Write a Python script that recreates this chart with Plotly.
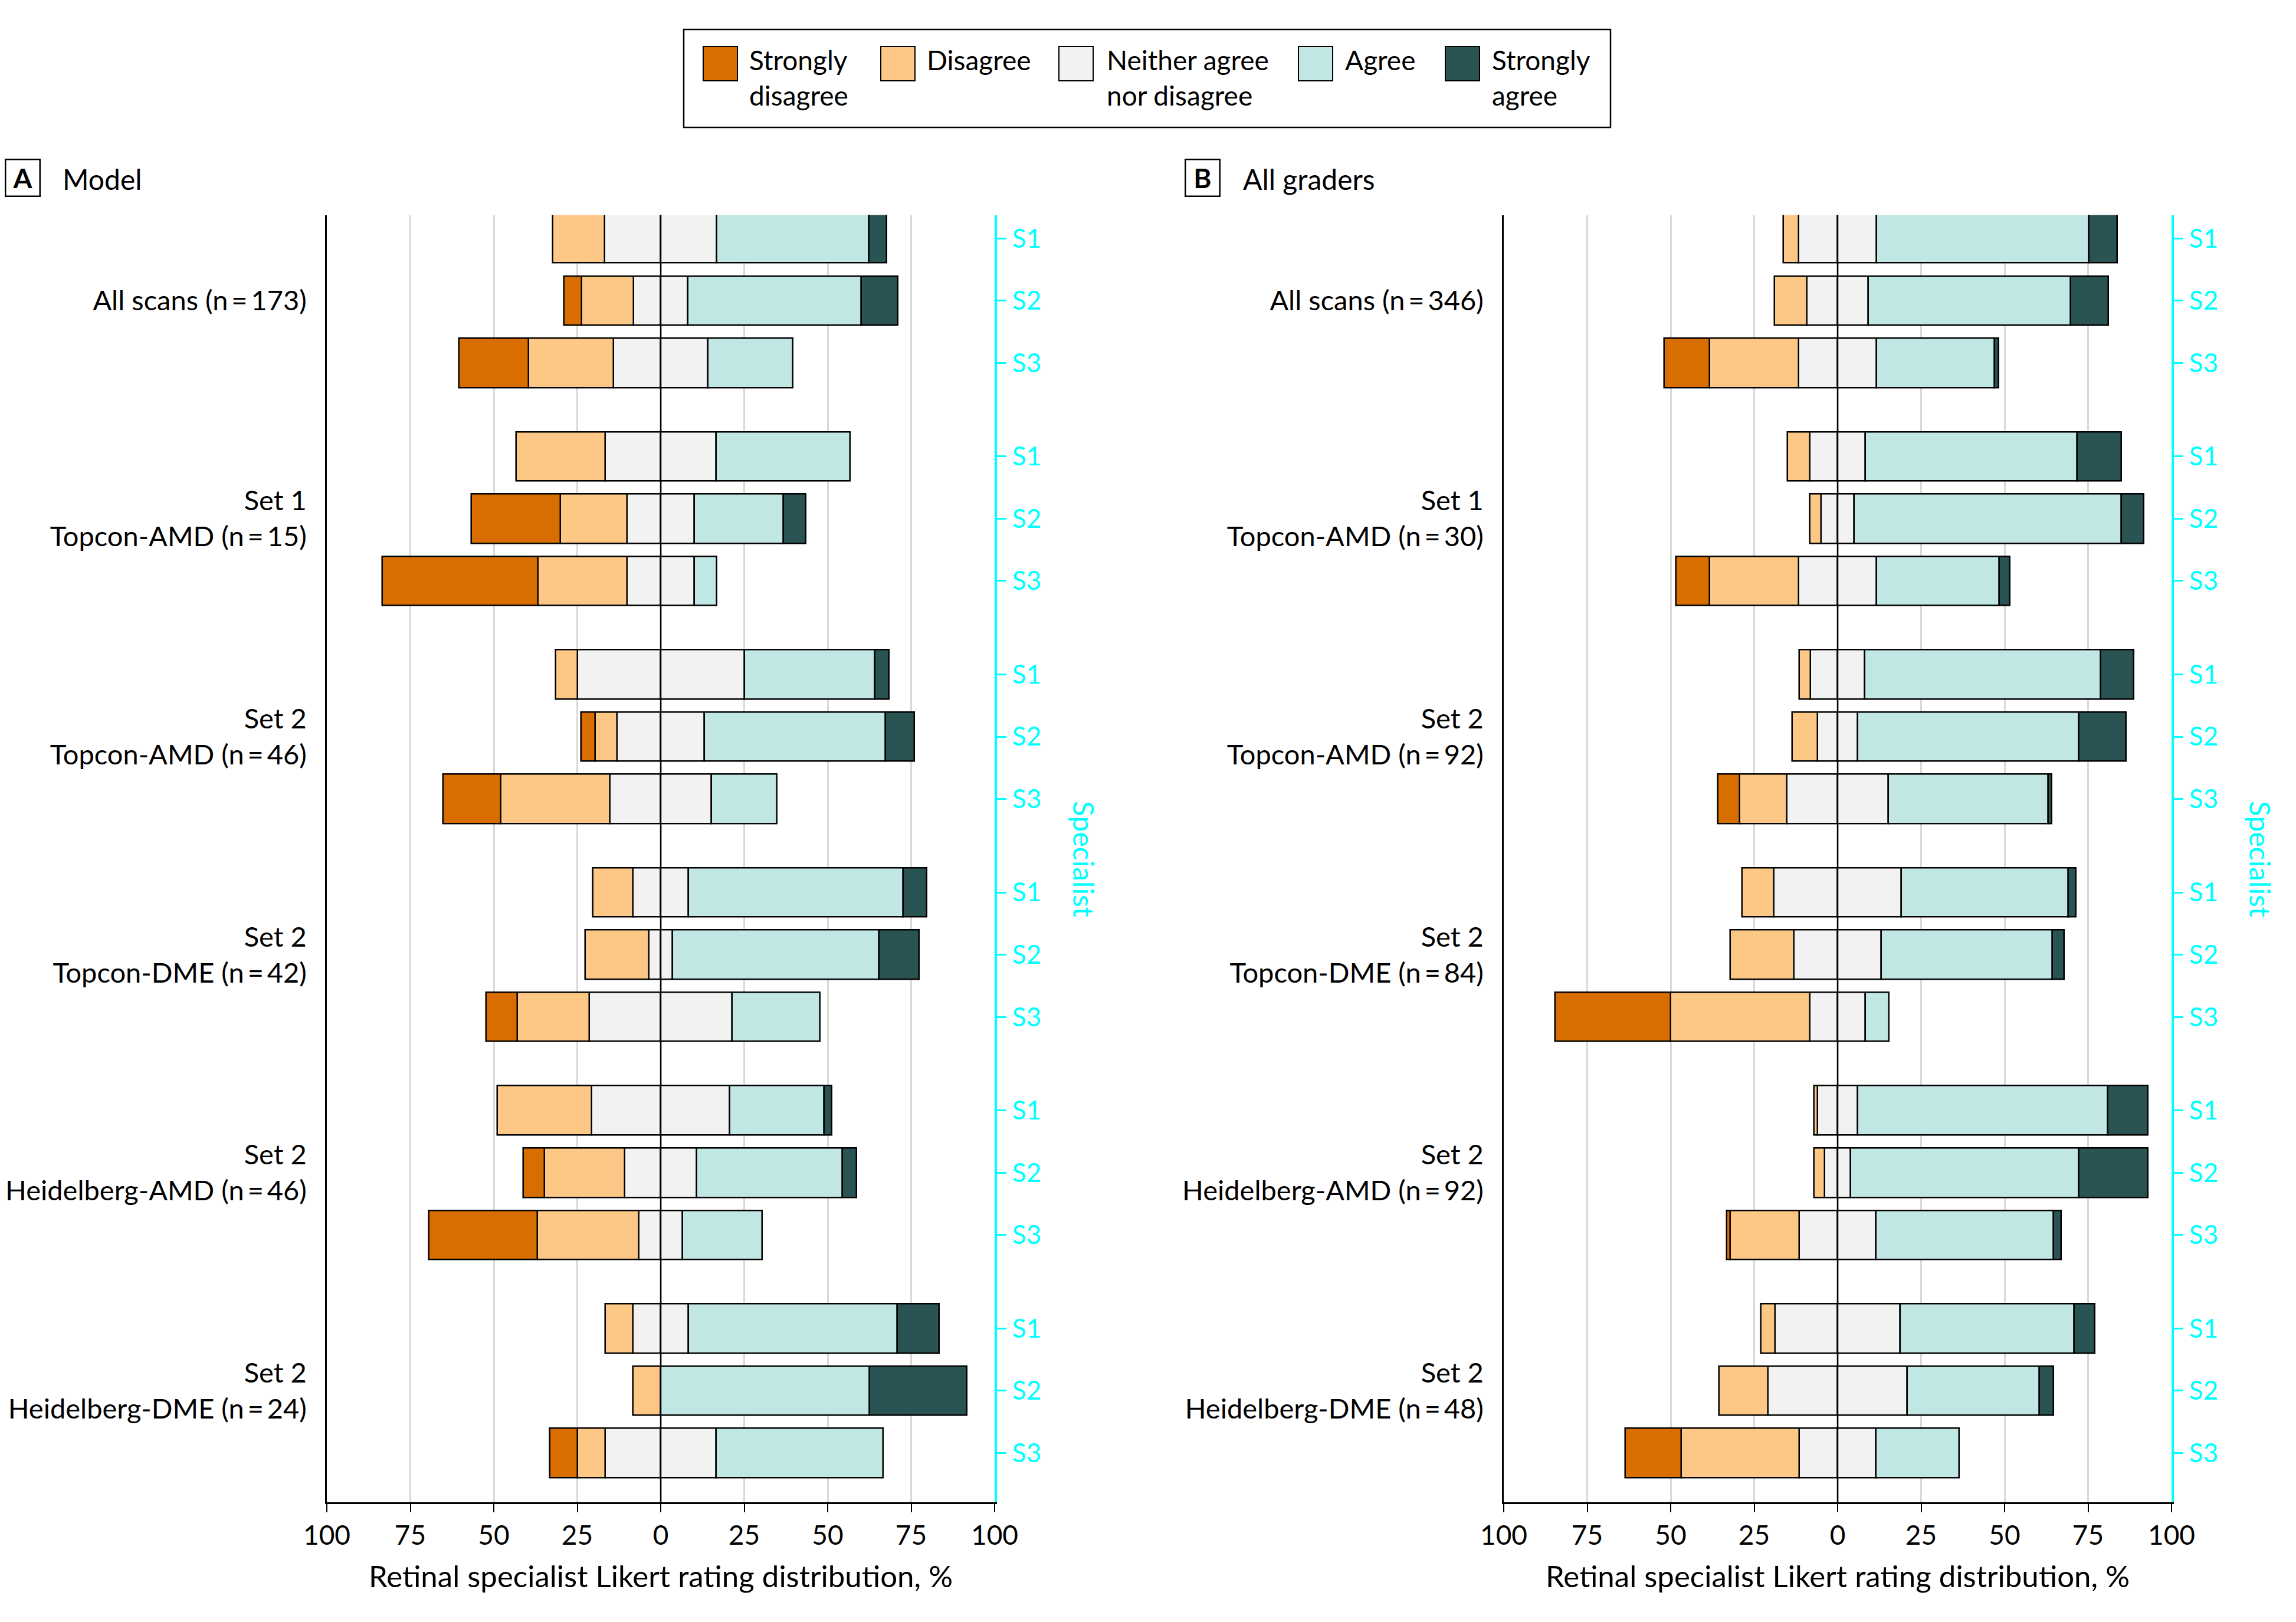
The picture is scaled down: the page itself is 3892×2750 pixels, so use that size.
import plotly.graph_objects as go

W, H = 3892, 2750
FONT = "Lato"
PAGE_OFFSET = 8  # default body margin of the html page

categories = ["Strongly disagree", "Disagree", "Neither agree nor disagree", "Agree", "Strongly agree"]
legend_labels = ["Strongly<br>disagree", "Disagree", "Neither agree<br>nor disagree", "Agree", "Strongly<br>agree"]
colors = ["#D86E00", "#FDC886", "#F2F2F2", "#C1E7E5", "#2A5353"]
specialists = ["S1", "S2", "S3"]

groups_A = ["All scans (n\u2009=\u2009173)", "Set 1<br>Topcon-AMD (n\u2009=\u200915)",
            "Set 2<br>Topcon-AMD (n\u2009=\u200946)", "Set 2<br>Topcon-DME (n\u2009=\u200942)",
            "Set 2<br>Heidelberg-AMD (n\u2009=\u200946)", "Set 2<br>Heidelberg-DME (n\u2009=\u200924)"]
groups_B = ["All scans (n\u2009=\u2009346)", "Set 1<br>Topcon-AMD (n\u2009=\u200930)",
            "Set 2<br>Topcon-AMD (n\u2009=\u200992)", "Set 2<br>Topcon-DME (n\u2009=\u200984)",
            "Set 2<br>Heidelberg-AMD (n\u2009=\u200992)", "Set 2<br>Heidelberg-DME (n\u2009=\u200948)"]

# Panel A: Model (percentages, rows = group x specialist S1..S3)
A_SD = [0, 5.2, 20.8, 0, 26.7, 46.7, 0, 4.3, 17.4, 0, 0, 9.5, 0, 6.5, 32.6, 0, 0, 8.3]
A_D = [15.6, 15.6, 25.4, 26.7, 20.0, 26.7, 6.5, 6.5, 32.6, 11.9, 19.0, 21.4, 28.3, 23.9, 30.4, 8.3, 8.3, 8.3]
A_N = [33.5, 16.2, 28.3, 33.3, 20.0, 20.0, 50.0, 26.1, 30.4, 16.7, 7.1, 42.9, 41.3, 21.7, 13.0, 16.7, 0, 33.3]
A_A = [45.7, 52.0, 25.4, 40.0, 26.7, 6.7, 39.1, 54.3, 19.6, 64.3, 61.9, 26.2, 28.3, 43.5, 23.9, 62.5, 62.5, 50.0]
A_SA = [5.2, 11.0, 0, 0, 6.7, 0, 4.3, 8.7, 0, 7.1, 11.9, 0, 2.2, 4.3, 0, 12.5, 29.2, 0]

# Panel B: All graders
B_SD = [0, 0, 13.6, 0, 0, 10.0, 0, 0, 6.5, 0, 0, 34.5, 0, 0, 1.1, 0, 0, 16.7]
B_D = [4.6, 9.8, 26.6, 6.7, 3.3, 26.7, 3.3, 7.6, 14.1, 9.5, 19.0, 41.7, 1.1, 3.3, 20.7, 4.2, 14.6, 35.4]
B_N = [23.4, 18.2, 23.4, 16.7, 10.0, 23.3, 16.3, 12.0, 30.4, 38.1, 26.2, 16.7, 12.0, 7.6, 22.8, 37.5, 41.7, 22.9]
B_A = [63.6, 60.7, 35.3, 63.3, 80.0, 36.7, 70.7, 66.3, 47.8, 50.0, 51.2, 7.1, 75.0, 68.5, 53.3, 52.1, 39.6, 25.0]
B_SA = [8.4, 11.3, 1.2, 13.3, 6.7, 3.3, 9.8, 14.1, 1.1, 2.4, 3.6, 0, 12.0, 20.7, 2.2, 6.2, 4.2, 0]

x_ticks = [-100, -75, -50, -25, 0, 25, 50, 75, 100]
x_ticktext = [str(abs(v)) for v in x_ticks]
x_title = "Retinal specialist Likert rating distribution, %"

GROUP_STEP = 3.5
y_pos = [g * GROUP_STEP + s for g in range(6) for s in range(3)]
group_pos = [g * GROUP_STEP + 1 for g in range(6)]
y_range = [5 * GROUP_STEP + 2 + 0.79, -0.375]


def px(x):
    return (x - PAGE_OFFSET) / W


def py(y):
    return 1 - (y - PAGE_OFFSET) / H


fig = go.Figure()


def neg(vals, f=1.0):
    return [-v * f if v else None for v in vals]


def pos(vals, f=1.0):
    return [v * f if v else None for v in vals]


def add_panel(SD, D, N, A, SA, xa, ya):
    series = [
        (neg(N, 0.5), colors[2]),
        (pos(N, 0.5), colors[2]),
        (neg(D), colors[1]),
        (pos(A), colors[3]),
        (neg(SD), colors[0]),
        (pos(SA), colors[4]),
    ]
    for vals, c in series:
        fig.add_trace(go.Bar(
            x=vals, y=y_pos, orientation="h", xaxis=xa, yaxis=ya,
            marker=dict(color=c, line=dict(color="black", width=2.5)),
            width=0.79, showlegend=False, hoverinfo="skip",
        ))


add_panel(A_SD, A_D, A_N, A_A, A_SA, "x", "y")
add_panel(B_SD, B_D, B_N, B_A, B_SA, "x2", "y2")
# anchor traces for the right-hand specialist axes
fig.add_trace(go.Scatter(x=[0], y=[0], xaxis="x", yaxis="y3", mode="markers",
                         marker=dict(opacity=0), showlegend=False, hoverinfo="skip"))
fig.add_trace(go.Scatter(x=[0], y=[0], xaxis="x2", yaxis="y4", mode="markers",
                         marker=dict(opacity=0), showlegend=False, hoverinfo="skip"))

CYAN = "#00FFFF"
ydom = [py(2547), py(364.5)]
domA = [px(554), px(1686)]
domB = [px(2549), px(3681)]

xaxis_common = dict(
    range=[-100, 100], tickmode="array", tickvals=x_ticks, ticktext=x_ticktext,
    ticks="outside", ticklen=14, tickwidth=2, tickcolor="black",
    showline=True, linecolor="black", linewidth=2.5,
    showgrid=True, gridcolor="#D9D9D9", gridwidth=3, zeroline=False,
    tickfont=dict(family=FONT, size=46, color="black"),
    title=dict(text=x_title, font=dict(family=FONT, size=51, color="black"), standoff=28),
    fixedrange=True, automargin=False,
)
yaxis_left = dict(
    range=y_range, tickmode="array", tickvals=group_pos,
    ticks="", showline=True, linecolor="black", linewidth=2.5,
    showgrid=False, zeroline=False, ticklabelstandoff=22,
    tickfont=dict(family=FONT, size=47, color="black"), domain=ydom, automargin=False,
)
yaxis_right = dict(
    range=y_range, tickmode="array", tickvals=y_pos, ticktext=specialists * 6,
    side="right", ticks="outside", ticklen=16, tickwidth=3, tickcolor=CYAN,
    showline=True, linecolor=CYAN, linewidth=4, showgrid=False, zeroline=False,
    tickfont=dict(family=FONT, size=44, color=CYAN), ticklabelstandoff=1, automargin=False,
)

fig.update_layout(
    width=W, height=H, margin=dict(l=0, r=0, t=0, b=0, pad=0, autoexpand=False),
    paper_bgcolor="white", plot_bgcolor="white",
    barmode="relative", bargap=0,
    font=dict(family=FONT, size=46, color="black"),
    xaxis=dict(domain=domA, anchor="y", **xaxis_common),
    xaxis2=dict(domain=domB, anchor="y2", **xaxis_common),
    yaxis=dict(anchor="x", ticktext=groups_A, **yaxis_left),
    yaxis2=dict(anchor="x2", ticktext=groups_B, **yaxis_left),
    yaxis3=dict(anchor="x", overlaying="y", **yaxis_right),
    yaxis4=dict(anchor="x2", overlaying="y2", **yaxis_right),
    showlegend=False,
)

shapes = []
annotations = []
# zero reference lines above the bars
for xa, ya in (("x", "y"), ("x2", "y2")):
    shapes.append(dict(type="line", xref=xa, yref=f"{ya} domain", x0=0, x1=0, y0=0, y1=1,
                       line=dict(color="black", width=2.5), layer="above"))

# legend box
shapes.append(dict(type="rect", xref="paper", yref="paper",
                   x0=px(1159), x1=px(2730), y0=py(216), y1=py(50),
                   line=dict(color="black", width=2.5), fillcolor="rgba(0,0,0,0)"))
sw_x = [1192, 1493, 1795, 2201, 2450]
tx_x = [1268, 1569, 1874, 2278, 2527]
for i in range(5):
    shapes.append(dict(type="rect", xref="paper", yref="paper",
                       x0=px(sw_x[i]), x1=px(sw_x[i] + 58), y0=py(137), y1=py(79),
                       line=dict(color="black", width=2), fillcolor=colors[i]))
    annotations.append(dict(xref="paper", yref="paper", x=px(tx_x[i]), y=py(72),
                            xanchor="left", yanchor="top", align="left", showarrow=False,
                            text=legend_labels[i], font=dict(family=FONT, size=46, color="black")))

# panel headings
for letter, title, cx, tx in (("A", "Model", 38.5, 104), ("B", "All graders", 2038.5, 2105)):
    annotations.append(dict(xref="paper", yref="paper", x=px(cx), y=py(301.5),
                            xanchor="center", yanchor="middle", showarrow=False,
                            text=f"<b>{letter}</b>", width=56, height=60,
                            bordercolor="black", borderwidth=2.5, borderpad=0,
                            font=dict(family=FONT, size=46, color="black")))
    annotations.append(dict(xref="paper", yref="paper", x=px(tx), y=py(303),
                            xanchor="left", yanchor="middle", showarrow=False,
                            text=title, font=dict(family=FONT, size=48, color="black")))

# right-side specialist axis titles
for cx in (1838, 3832):
    annotations.append(dict(xref="paper", yref="paper", x=px(cx), y=py(1456),
                            xanchor="center", yanchor="middle", showarrow=False,
                            text="Specialist", textangle=90,
                            font=dict(family=FONT, size=48, color=CYAN)))

fig.update_layout(shapes=shapes, annotations=annotations)
fig.write_html("out.html")
